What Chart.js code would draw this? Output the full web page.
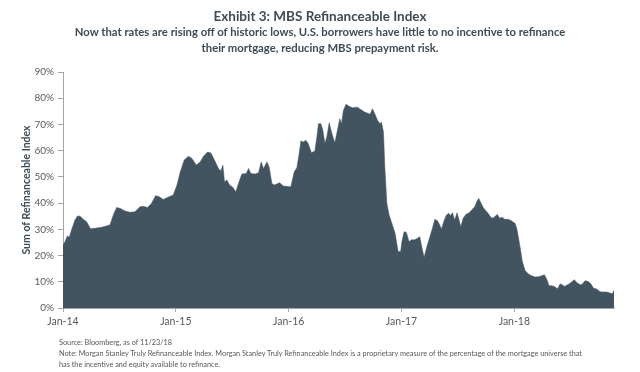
<!DOCTYPE html>
<html>
<head>
<meta charset="utf-8">
<script src="https://cdn.jsdelivr.net/npm/chart.js@4"></script>
<style>
  html, body { margin: 0; padding: 0; background: #ffffff; }
  #wrap { position: relative; width: 640px; height: 372px; overflow: hidden; font-family: Lato, "Open Sans", sans-serif; }
  #wrap canvas { position: absolute; left: 0; top: 0; }
  .title { position: absolute; left: 0; width: 640px; text-align: center; color: #3d4c57; font-weight: bold; }
  #t1 { top: 8px; font-size: 13.5px; }
  #t2 { top: 24px; font-size: 11.3px; line-height: 16px; }
  .foot { position: absolute; left: 59px; color: #595959; font-size: 7.3px; line-height: 10.8px; }
</style>
</head>
<body>
<div id="wrap">
  <canvas id="c" width="640" height="372"></canvas>
  <div class="title" id="t1">Exhibit 3: MBS Refinanceable Index</div>
  <div class="title" id="t2">Now that rates are rising off of historic lows, U.S. borrowers have little to no incentive to refinance<br>their mortgage, reducing MBS prepayment risk.</div>
  <div class="foot" style="top:338px;">Source: Bloomberg, as of 11/23/18<br>Note: Morgan Stanley Truly Refinanceable Index. Morgan Stanley Truly Refinanceable Index is a proprietary measure of the percentage of the mortgage universe that<br>has the incentive and equity available to refinance.</div>
</div>
<script>
// Time in decimal years
const years = [
  2014.000, 2014.018, 2014.038, 2014.056, 2014.076, 2014.106, 2014.129, 2014.151, 2014.180, 2014.209,
  2014.244, 2014.283, 2014.342, 2014.416, 2014.446, 2014.475, 2014.505, 2014.549, 2014.593, 2014.638,
  2014.682, 2014.711, 2014.749, 2014.785, 2014.820, 2014.850, 2014.888, 2014.933, 2014.977,
  2015.010, 2015.039, 2015.074, 2015.112, 2015.143, 2015.181, 2015.216, 2015.245, 2015.281, 2015.311,
  2015.340, 2015.378, 2015.399, 2015.417, 2015.431, 2015.453, 2015.476, 2015.506, 2015.532, 2015.555,
  2015.585, 2015.624, 2015.644, 2015.665, 2015.703, 2015.733, 2015.756, 2015.777, 2015.807, 2015.827,
  2015.851, 2015.872, 2015.895, 2015.919, 2015.954, 2015.998,
  2016.019, 2016.049, 2016.073, 2016.093, 2016.108, 2016.131, 2016.152, 2016.173, 2016.202, 2016.232,
  2016.250, 2016.264, 2016.285, 2016.303, 2016.321, 2016.338, 2016.359, 2016.383, 2016.409, 2016.432,
  2016.453, 2016.468, 2016.485, 2016.509, 2016.536, 2016.565, 2016.609, 2016.639, 2016.669, 2016.693,
  2016.722, 2016.742, 2016.763, 2016.787, 2016.810, 2016.822, 2016.840, 2016.852, 2016.870, 2016.890,
  2016.919, 2016.943, 2016.970, 2016.992,
  2017.003, 2017.023, 2017.043, 2017.067, 2017.088, 2017.118, 2017.141, 2017.162, 2017.182, 2017.200,
  2017.221, 2017.251, 2017.274, 2017.295, 2017.318, 2017.339, 2017.353, 2017.377, 2017.398, 2017.419,
  2017.433, 2017.451, 2017.472, 2017.492, 2017.510, 2017.525, 2017.546, 2017.570, 2017.599, 2017.626,
  2017.649, 2017.670, 2017.685, 2017.702, 2017.723, 2017.747, 2017.767, 2017.791, 2017.811, 2017.832,
  2017.849, 2017.871, 2017.891, 2017.915, 2017.944, 2017.973, 2017.997,
  2018.006, 2018.021, 2018.035, 2018.050, 2018.071, 2018.095, 2018.124, 2018.154, 2018.183, 2018.213,
  2018.243, 2018.266, 2018.287, 2018.307, 2018.331, 2018.354, 2018.384, 2018.405, 2018.425, 2018.443,
  2018.473, 2018.502, 2018.531, 2018.553, 2018.582, 2018.602, 2018.626, 2018.655, 2018.679, 2018.700,
  2018.730, 2018.759, 2018.788, 2018.818, 2018.847, 2018.868, 2018.883
];
// Sum of Refinanceable Index, percent
const values = [
  24.1, 25.3, 27.5, 27.0, 29.8, 33.6, 35.1, 35.0, 33.8, 32.9,
  30.2, 30.4, 30.8, 31.7, 35.5, 38.3, 38.0, 37.0, 36.5, 36.7,
  38.6, 38.8, 38.3, 39.9, 42.8, 42.5, 41.4, 42.3, 43.1,
  46.9, 51.9, 56.4, 57.9, 57.0, 54.5, 55.7, 57.9, 59.5, 59.1,
  56.6, 53.2, 52.2, 54.5, 48.1, 48.8, 46.9, 46.0, 44.3, 47.5,
  51.1, 51.3, 53.2, 51.3, 51.1, 51.6, 55.7, 53.2, 55.7, 53.8,
  47.5, 46.9, 47.3, 47.8, 46.5, 46.3,
  46.2, 51.9, 53.6, 58.9, 63.7, 63.3, 64.0, 62.7, 59.2, 59.9,
  65.3, 70.3, 70.3, 67.8, 62.7, 65.3, 70.6, 66.5, 63.0, 67.8,
  72.2, 70.3, 75.4, 77.7, 76.9, 76.4, 76.6, 75.7, 74.8, 74.4,
  73.9, 76.0, 74.1, 71.6, 70.3, 70.9, 67.1, 53.8, 39.9, 35.5,
  31.7, 28.5, 21.5, 21.5,
  25.3, 29.1, 28.8, 25.3, 26.0, 26.0, 26.6, 27.2, 22.8, 19.4,
  22.8, 27.2, 30.4, 33.8, 33.3, 31.7, 30.0, 33.3, 35.5, 36.1,
  35.2, 36.3, 33.6, 36.3, 33.6, 31.0, 34.2, 35.7, 36.3, 37.6,
  38.6, 40.9, 41.8, 40.2, 38.4, 37.1, 36.1, 34.6, 34.2, 35.1,
  35.7, 34.2, 34.6, 33.8, 33.8, 33.3, 32.5,
  32.3, 30.4, 27.2, 23.4, 17.7, 14.3, 13.0, 12.3, 11.8, 11.9,
  12.3, 12.7, 11.0, 8.5, 8.5, 8.2, 7.3, 9.2, 8.9, 8.2,
  8.9, 9.7, 10.8, 9.7, 8.9, 9.1, 10.4, 10.1, 9.2, 7.6,
  7.2, 6.2, 6.1, 6.1, 5.7, 5.4, 6.7
];
const tickYears = [2014, 2015, 2016, 2017, 2018];
const tickLabels = ['Jan-14', 'Jan-15', 'Jan-16', 'Jan-17', 'Jan-18'];
const yTicks = [0, 10, 20, 30, 40, 50, 60, 70, 80, 90];

const points = years.map((t, i) => ({ x: t, y: values[i] }));

const axisColor = '#a6a6a6';
const tickColor = '#595959';
const fillColor = '#435461';

new Chart(document.getElementById('c'), {
  type: 'line',
  data: {
    datasets: [{
      label: 'Sum of Refinanceable Index',
      data: points,
      backgroundColor: fillColor,
      borderColor: fillColor,
      borderWidth: 0.5,
      fill: 'origin',
      pointRadius: 0,
      tension: 0
    }]
  },
  options: {
    responsive: false,
    devicePixelRatio: 1,
    animation: false,
    layout: { padding: { left: 0, right: 26, top: 72, bottom: 44 } },
    plugins: {
      legend: { display: false },
      title: { display: false },
      tooltip: { enabled: false }
    },
    scales: {
      x: {
        type: 'linear',
        min: 2014,
        max: 2018.883,
        afterBuildTicks: (s) => { s.ticks = tickYears.map(v => ({ value: v })); },
        afterFit: (s) => { s.height = 20; },
        ticks: {
          autoSkip: false,
          maxRotation: 0,
          padding: 3,
          color: tickColor,
          font: { family: 'Lato', size: 10.5 },
          callback: (v) => { const i = tickYears.indexOf(v); return i >= 0 ? tickLabels[i] : ''; }
        },
        grid: { drawOnChartArea: false, drawTicks: true, tickLength: 4, color: axisColor },
        border: { display: true, color: axisColor, width: 1 }
      },
      y: {
        min: 0,
        max: 90,
        afterBuildTicks: (s) => { s.ticks = yTicks.map(v => ({ value: v })); },
        afterFit: (s) => { s.width = 63; },
        ticks: {
          padding: 4,
          color: tickColor,
          font: { family: 'Lato', size: 10 },
          callback: (v) => v + '%'
        },
        grid: { drawOnChartArea: false, drawTicks: true, tickLength: 5, color: axisColor },
        border: { display: true, color: axisColor, width: 1 },
        title: {
          display: true,
          text: 'Sum of Refinanceable Index',
          color: '#3d4c57',
          font: { family: 'Lato', size: 10.5, weight: 'bold' },
          padding: { top: 20, bottom: 0 }
        }
      }
    }
  }
});
</script>
</body>
</html>
